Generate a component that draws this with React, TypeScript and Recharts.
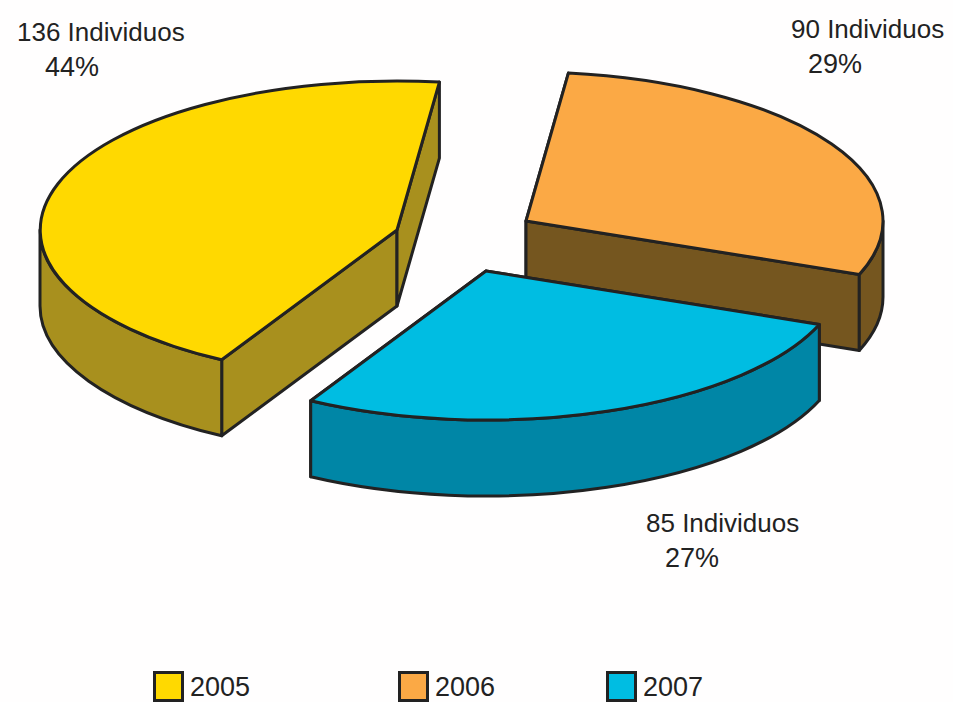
import { PieChart, Pie, Legend } from "recharts";

const years = ["2005", "2006", "2007"];
const individuals = [136, 90, 85];
const topColors = ["#FFD900", "#FBA945", "#00BDE2"];
const sideColors = ["#A8901E", "#75561F", "#0086A6"];

const chartData = years.map((year, i) => ({
  name: year,
  value: individuals[i],
  fill: topColors[i],
}));

// exploded slice offsets + label anchors, by slice index
const explode = [
  { dx: -73, dy: -10 },
  { dx: 56, dy: -19 },
  { dx: 16, dy: 31 },
];
const labelPos = [
  { x: 17, y: 41, px: 45 },
  { x: 791, y: 38, px: 808 },
  { x: 646, y: 532, px: 665 },
];
const legendPos = [153, 398, 606];

const SQUASH = 149 / 357;
const DEPTH = 76;
const STROKE = "#222222";

function SliceShape(props: any) {
  const { cx, cy, outerRadius: rx, startAngle, endAngle, index } = props;
  const ry = rx * SQUASH;
  const ox = cx + explode[index].dx;
  const oy = cy + explode[index].dy;
  const hi = Math.max(startAngle, endAngle);
  const lo = Math.min(startAngle, endAngle);
  const pt = (deg: number, drop = 0) => {
    const t = (deg * Math.PI) / 180;
    return [ox + rx * Math.cos(t), oy - ry * Math.sin(t) + drop].map((n) => n.toFixed(1)).join(" ");
  };
  const large = hi - lo > 180 ? 1 : 0;
  const top = `M${ox} ${oy} L${pt(hi)} A${rx} ${ry} 0 ${large} 1 ${pt(lo)} Z`;
  const cutFace = (deg: number) =>
    `M${ox} ${oy} L${pt(deg)} L${pt(deg, DEPTH)} L${ox} ${oy + DEPTH} Z`;

  // only the part of the rim facing the viewer gets a side wall
  let rim = "";
  for (const k of [-360, 0, 360]) {
    const a = Math.max(lo, 180 + k);
    const b = Math.min(hi, 360 + k);
    if (b > a) {
      rim = `M${pt(b)} A${rx} ${ry} 0 0 1 ${pt(a)} L${pt(a, DEPTH)} A${rx} ${ry} 0 0 0 ${pt(b, DEPTH)} Z`;
      break;
    }
  }

  return (
    <g stroke={STROKE} strokeWidth={3} strokeLinejoin="round">
      <path d={cutFace(hi)} fill={sideColors[index]} />
      <path d={cutFace(lo)} fill={sideColors[index]} />
      {rim && <path d={rim} fill={sideColors[index]} />}
      <path d={top} fill={topColors[index]} />
    </g>
  );
}

function SliceLabel(props: any) {
  const { index, value, percent } = props;
  const pos = labelPos[index];
  return (
    <g fontFamily="'Liberation Sans', Arial, sans-serif" fontSize={26} fill="#222222">
      <text x={pos.x} y={pos.y}>{`${value} Individuos`}</text>
      <text x={pos.px} y={pos.y + 35} fontSize={27}>{`${Math.round(percent * 100)}%`}</text>
    </g>
  );
}

function YearLegend() {
  return (
    <div style={{ position: "relative", width: 953, height: 42 }}>
      {years.map((year, i) => (
        <div key={year}>
          <div
            style={{
              position: "absolute",
              left: legendPos[i],
              top: 11,
              width: 25,
              height: 25,
              background: topColors[i],
              border: `3px solid ${STROKE}`,
            }}
          />
          <span
            style={{
              position: "absolute",
              left: legendPos[i] + 37,
              top: 12,
              fontFamily: "'Liberation Sans', Arial, sans-serif",
              fontSize: 27,
              lineHeight: "30px",
              color: "#222222",
            }}
          >
            {year}
          </span>
        </div>
      ))}
    </div>
  );
}

export default function App() {
  return (
    <div style={{ position: "absolute", left: 0, top: 0, width: 953, height: 702, overflow: "hidden", background: "#FFFEFE" }}>
      <PieChart width={953} height={702} margin={{ top: 0, right: 0, bottom: 0, left: 0 }}>
        <Pie
          data={chartData}
          dataKey="value"
          nameKey="name"
          cx={470}
          cy={240}
          innerRadius={0}
          outerRadius={357}
          startAngle={240.6}
          endAngle={-119.4}
          paddingAngle={0}
          stroke="none"
          shape={SliceShape}
          label={SliceLabel}
          labelLine={false}
          isAnimationActive={false}
        />
        <Legend
          content={<YearLegend />}
          wrapperStyle={{ position: "absolute", left: 0, top: 660, width: 953 }}
        />
      </PieChart>
    </div>
  );
}
